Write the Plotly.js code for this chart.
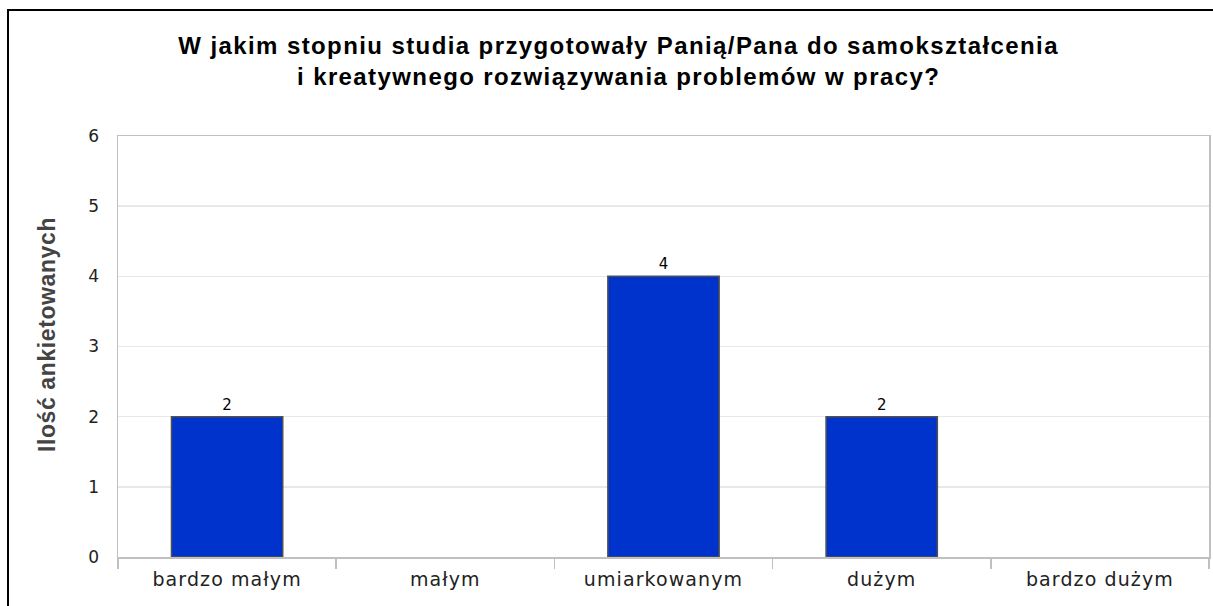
<!DOCTYPE html>
<html>
<head>
<meta charset="utf-8">
<script src="https://cdn.plot.ly/plotly-3.0.1.min.js"></script>
<style>
  html, body { margin: 0; padding: 0; background: #fff; }
  #wrap { position: relative; width: 1213px; height: 606px; }
  #chart { position: absolute; left: 0; top: 0; width: 1213px; height: 606px; }
  #frame { position: absolute; left: 7px; top: 9px; width: 1206px; height: 597px;
           border-left: 2px solid #000; border-top: 2px solid #000; box-sizing: border-box; pointer-events: none; }
  .gtitle { letter-spacing: 1.4px; }
  .xtick text { letter-spacing: 1.1px; }
  .g-ytitle text { letter-spacing: 0.6px; }
  .g-ytitle { transform: translate(0px, -12px); }
</style>
</head>
<body>
<div id="wrap">
  <div id="chart"></div>
  <div id="frame"></div>
</div>
<script>
const categories = ['bardzo małym', 'małym', 'umiarkowanym', 'dużym', 'bardzo dużym'];
const counts = [2, 0, 4, 2, 0];
const labels = ['2', '', '4', '2', ''];
const yTicks = [0, 1, 2, 3, 4, 5, 6];
const titleText = 'W jakim stopniu studia przygotowały Panią/Pana do samokształcenia<br>i kreatywnego rozwiązywania problemów w pracy?';
const yTitle = 'Ilość ankietowanych';

const trace = {
  type: 'bar',
  x: categories,
  y: counts,
  text: labels,
  textposition: 'outside',
  cliponaxis: false,
  textfont: { family: 'DejaVu Sans', size: 15, color: '#000' },
  marker: {
    color: '#0033cc',
    line: { color: '#505050', width: counts.map(v => (v > 0 ? 1.5 : 0)) }
  },
  hoverinfo: 'none'
};

const layout = {
  width: 1213,
  height: 606,
  margin: { l: 118, r: 4, t: 136, b: 49 },
  paper_bgcolor: '#fff',
  plot_bgcolor: '#fff',
  showlegend: false,
  bargap: 0.49,
  title: {
    text: titleText,
    font: { family: 'Liberation Sans', size: 24, color: '#000', weight: 'bold' },
    x: 0.51, xref: 'container', xanchor: 'center',
    y: 1 - 54 / 606, yref: 'container', yanchor: 'top'
  },
  xaxis: {
    type: 'category',
    tickson: 'boundaries',
    ticks: 'outside',
    ticklen: 10,
    tickcolor: '#c0c0c0',
    tickwidth: 1.5,
    ticklabelstandoff: 5,
    showline: true,
    linecolor: '#c0c0c0',
    linewidth: 1.5,
    mirror: true,
    showgrid: false,
    tickfont: { family: 'DejaVu Sans', size: 19, color: '#222' },
    range: [-0.5, 4.5]
  },
  yaxis: {
    range: [0, 6],
    tickvals: yTicks,
    ticktext: yTicks.map(String),
    showline: true,
    linecolor: '#c0c0c0',
    linewidth: 1.5,
    mirror: true,
    showgrid: true,
    gridcolor: '#e8e8e8',
    gridwidth: 1.5,
    zeroline: false,
    ticks: '',
    ticklabelstandoff: 14,
    tickfont: { family: 'DejaVu Sans', size: 17, color: '#222' },
    title: {
      text: yTitle,
      font: { family: 'Liberation Sans', size: 23, color: '#444', weight: 'bold' },
      standoff: 26
    }
  }
};

Plotly.newPlot('chart', [trace], layout, { displayModeBar: false, staticPlot: true });
</script>
</body>
</html>
